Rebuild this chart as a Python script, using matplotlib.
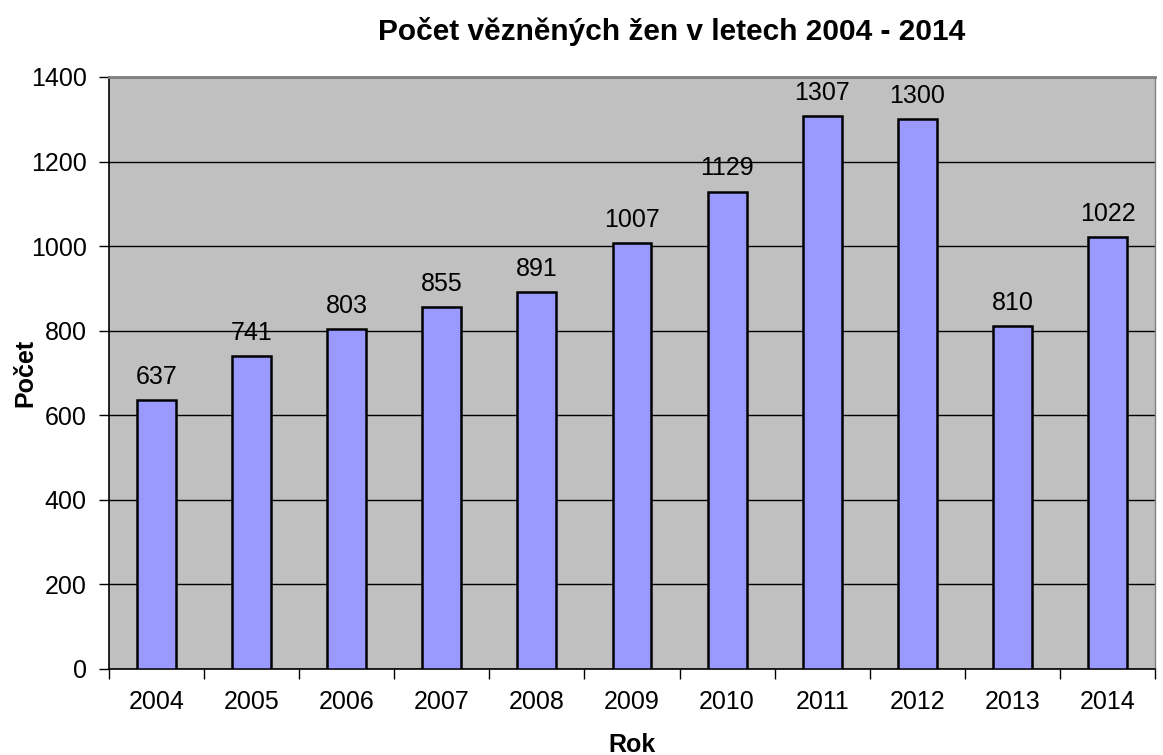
import numpy as np
import matplotlib.pyplot as plt

roky = ['2004', '2005', '2006', '2007', '2008', '2009', '2010', '2011', '2012', '2013', '2014']
pocty = [637, 741, 803, 855, 891, 1007, 1129, 1307, 1300, 810, 1022]

plt.rcParams['font.family'] = ['Liberation Sans', 'DejaVu Sans']

fig = plt.figure(figsize=(11.63, 7.55), dpi=100)
ax = fig.add_axes([109/1163, 86/755, 1046/1163, 592/755])
ax.set_facecolor('#c0c0c0')

x = np.arange(len(roky))
bars = ax.bar(x, pocty, width=0.41, color='#9999ff', edgecolor='black', linewidth=1.8, zorder=3)
for xi, v in zip(x, pocty):
    ax.annotate(str(v), (xi, v), xytext=(0, 8), textcoords='offset points',
                ha='center', va='bottom', fontsize=18)

ax.set_xlim(-0.5, len(roky) - 0.5)
ax.set_ylim(0, 1400)
ax.set_yticks(range(0, 1401, 200))
ax.yaxis.grid(True, color='black', linewidth=1.0, zorder=1)
ax.set_axisbelow(True)

ax.set_xticks(x)
ax.set_xticklabels(roky)
ax.set_xticks(np.arange(-0.5, len(roky)), minor=True)
ax.tick_params(axis='x', which='major', length=0, pad=15, labelsize=18)
ax.tick_params(axis='x', which='minor', length=7, width=1)
ax.tick_params(axis='y', length=7, width=1, labelsize=18, pad=9)

ax.spines['top'].set_color('#808080')
ax.spines['right'].set_color('#808080')
ax.spines['top'].set_linewidth(2)
ax.spines['right'].set_linewidth(1)
ax.spines['left'].set_linewidth(1.2)
ax.spines['bottom'].set_linewidth(1.2)

ax.set_title('Počet vězněných žen v letech 2004 - 2014', fontsize=21.5, fontweight='bold', pad=27, x=0.538)
ax.set_xlabel('Rok', fontsize=18, fontweight='bold', va='center')
ax.set_ylabel('Počet', fontsize=18, fontweight='bold', va='center', ha='center')
ax.xaxis.set_label_coords(0.5, (755 - 745 - 86) / 592)
ax.yaxis.set_label_coords((25 - 109) / 1046, 0.5)

fig.savefig('out.png', dpi=100)
